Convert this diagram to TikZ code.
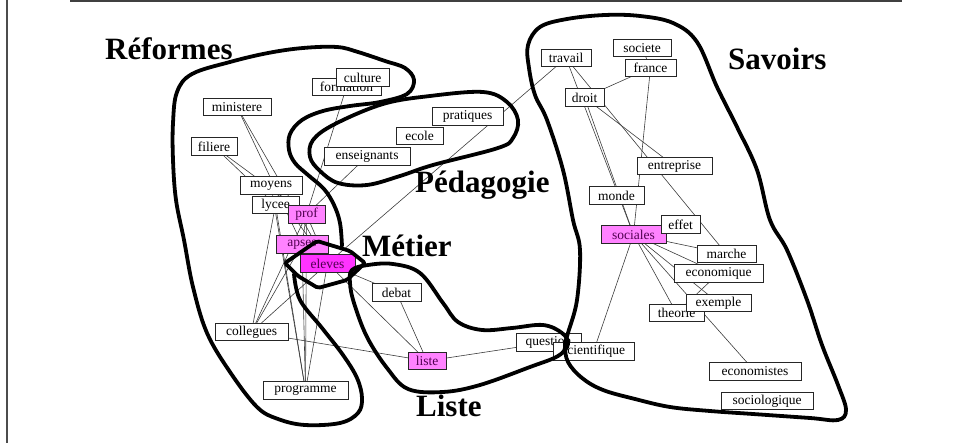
\documentclass[tikz,border=0pt]{standalone}
\usepackage{fontspec}
\setmainfont{Liberation Serif}
\pgfdeclarelayer{bg}
\pgfsetlayers{bg,main}
\definecolor{pinkA}{RGB}{255,130,255}
\definecolor{pinkB}{RGB}{255,51,255}
\definecolor{pinktext}{RGB}{80,0,80}
\definecolor{edgecol}{RGB}{60,60,60}
\tikzset{
  word/.style={draw=black!85, line width=0.9pt, fill=white, inner sep=0pt,
    minimum height=17.5pt, font=\fontsize{13.5}{15}\selectfont, text=black},
  hot/.style={word, fill=pinkA, text=pinktext},
  hotter/.style={word, fill=pinkB, text=pinktext},
  link/.style={draw=edgecol, line width=0.6pt},
  zone/.style={line width=3.8pt, line join=round, line cap=round},
  title/.style={font=\fontsize{31}{35}\selectfont\bfseries, anchor=base west, inner sep=0pt},
}
\begin{document}
\begin{tikzpicture}[x=1pt, y=-1pt]
\useasboundingbox (0,0) rectangle (953,443);
% frame
\draw[line width=1.2pt, black!70] (7,0) -- (7,443);
\draw[line width=2pt, black!75] (70,1) -- (902,1);

% nodes (left)
\node[word, minimum width=68pt] (ministere) at (237,107) {ministere};
\node[word, minimum width=46pt] (filiere) at (214,146.5) {filiere};
\node[word, minimum width=69pt] (formation) at (346.5,87) {formation};
\node[word, minimum width=53pt] (culture) at (362.5,77.5) {culture};
\node[word, minimum width=86pt] (enseignants) at (367,156.5) {enseignants};
\node[word, minimum width=47pt] (ecole) at (419.5,136) {ecole};
\node[word, minimum width=71pt] (pratiques) at (467.5,116.5) {pratiques};
\node[word, minimum width=62pt] (moyens) at (271,185.5) {moyens};
\node[word, minimum width=47pt] (lycee) at (275.5,205) {lycee};
\node[hot, minimum width=37pt] (prof) at (306.5,214.5) {prof};
\node[hot, minimum width=52pt] (apses) at (302,244.5) {apses};
\node[hotter, minimum width=55pt] (eleves) at (327.5,263.5) {eleves};
\node[word, minimum width=49pt] (debat) at (396.5,292.5) {debat};
\node[word, minimum width=73pt] (collegues) at (251.5,332) {collegues};
\node[hot, minimum width=38pt] (liste) at (427,361) {liste};
\node[word, minimum width=85pt] (programme) at (305.5,390.5) {programme};
\node[word, minimum width=65pt] (question) at (548.5,342.5) {question};
\node[word, minimum width=81pt] (scientifique) at (593.5,351.5) {scientifique};
% nodes (right)
\node[word, minimum width=50pt] (travail) at (566,58) {travail};
\node[word, minimum width=58pt] (societe) at (642,48) {societe};
\node[word, minimum width=51pt] (france) at (650.5,68) {france};
\node[word, minimum width=39pt] (droit) at (584.5,97.5) {droit};
\node[word, minimum width=75pt] (entreprise) at (674.5,166) {entreprise};
\node[word, minimum width=55pt] (monde) at (616.5,195.5) {monde};
\node[hot, minimum width=65pt] (sociales) at (633.5,234.5) {sociales};
\node[word, minimum width=39pt] (effet) at (680.5,224.5) {effet};
\node[word, minimum width=59pt] (marche) at (726.5,254) {marche};
\node[word, minimum width=89pt] (economique) at (718.5,273.5) {economique};
\node[word, minimum width=55pt] (theorie) at (676.5,313) {theorie};
\node[word, minimum width=65pt] (exemple) at (718.5,303) {exemple};
\node[word, minimum width=92pt] (economistes) at (755,371.5) {economistes};
\node[word, minimum width=92pt] (sociologique) at (767,401) {sociologique};

% connectors behind the boxes
\begin{pgfonlayer}{bg}
\draw[link] (ministere.center) -- (apses.center);
\draw[link] (ministere.center) -- (eleves.center);
\draw[link] (filiere.center) -- (lycee.center);
\draw[link] (filiere.center) -- (prof.center);
\draw[link] (formation.center) -- (prof.center);
\draw[link] (enseignants.center) -- (prof.center);
\draw[link] (travail.center) -- (eleves.center);
\draw[link] (moyens.center) -- (eleves.center);
\draw[link] (moyens.center) -- (programme.center);
\draw[link] (lycee.center) -- (collegues.center);
\draw[link] (lycee.center) -- (programme.center);
\draw[link] (prof.center) -- (apses.center);
\draw[link] (prof.center) -- (eleves.center);
\draw[link] (prof.center) -- (collegues.center);
\draw[link] (prof.center) -- (programme.center);
\draw[link] (apses.center) -- (collegues.center);
\draw[link] (apses.center) -- (programme.center);
\draw[link] (eleves.center) -- (collegues.center);
\draw[link] (eleves.center) -- (programme.center);
\draw[link] (eleves.center) -- (debat.center);
\draw[link] (eleves.center) -- (liste.center);
\draw[link] (debat.center) -- (liste.center);
\draw[link] (collegues.center) -- (liste.center);
\draw[link] (liste.center) -- (question.center);
\draw[link] (travail.center) -- (marche.center);
\draw[link] (travail.center) -- (sociales.center);
\draw[link] (droit.center) -- (sociales.center);
\draw[link] (droit.center) -- (entreprise.center);
\draw[link] (france.center) -- (droit.center);
\draw[link] (france.center) -- (sociales.center);
\draw[link] (societe.center) -- (france.center);
\draw[link] (sociales.center) -- (marche.center);
\draw[link] (sociales.center) -- (economique.center);
\draw[link] (sociales.center) -- (exemple.center);
\draw[link] (sociales.center) -- (theorie.center);
\draw[link] (sociales.center) -- (economistes.center);
\draw[link] (sociales.center) -- (scientifique.center);
\draw[link] (economique.center) -- (theorie.center);
\end{pgfonlayer}

% hand-drawn zones
\draw[zone] plot[smooth, tension=0.6] coordinates {(294,274) (300,300) (322,328) (343,355) (357,378) (362,398) (358,413) (340,423) (305,425) (278,419) (257,407) (230,372) (207,333) (193,287) (184,240) (176,200) (173,160) (173,123) (177,92) (192,74) (230,62) (268,53) (303,48) (337,47) (358,52) (385,61) (405,68) (414,80) (407,94) (380,102) (350,106) (323,111) (302,120) (290,134) (289,150) (295,163) (308,175) (324,189) (334,205) (340,223) (342,246)};
\draw[zone] plot[smooth cycle, tension=0.6] coordinates {(310,157) (313,140) (335,124) (383,104) (430,96) (483,92) (507,102) (518,120) (513,138) (498,148) (433,165) (400,176) (367,185) (338,183) (320,171)};
\draw[zone, rounded corners=2pt] (285,263) -- (317,241) -- (350,251) -- (365,263) -- (347,280) -- (318,288) -- (298,276) -- cycle;
\draw[zone] plot[smooth cycle, tension=0.6] coordinates {(352,270) (368,265) (393,264) (420,273) (443,303) (458,322) (482,330) (512,328) (543,325) (562,333) (568,344) (558,356) (530,367) (480,385) (443,392) (408,389) (387,368) (367,337) (354,303) (350,283)};
\draw[zone] plot[smooth cycle, tension=0.6] coordinates {(568,333) (577,300) (580,250) (573,220) (563,170) (547,120) (535,95) (529,68) (528,45) (540,27) (567,19) (605,15) (640,16) (673,23) (697,42) (717,87) (737,127) (757,170) (770,220) (787,250) (807,300) (822,345) (838,385) (846,410) (838,420) (810,418) (753,414) (710,411) (670,407) (635,399) (603,390) (582,378) (568,362) (565,345)};

% zone titles
\node[title] (tReformes) at (105,60) {Réformes};
\node[title] (tSavoirs) at (728,70) {Savoirs};
\node[title] (tPeda) at (415,193) {Pédagogie};
\node[title] (tMetier) at (362,257) {Métier};
\node[title] (tListe) at (416,417) {Liste};
\end{tikzpicture}
\end{document}
